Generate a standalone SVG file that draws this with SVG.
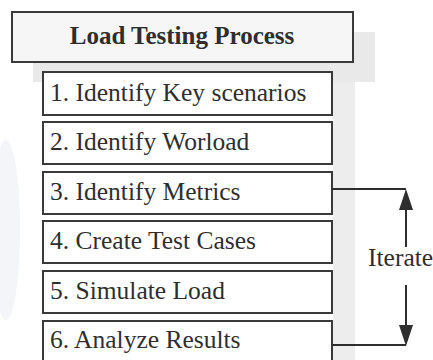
<svg xmlns="http://www.w3.org/2000/svg" width="433" height="360" viewBox="0 0 433 360">
<style>
.box{fill:#ffffff;stroke:#3a3a3a;stroke-width:2}
.title{fill:#f6f6f6;stroke:#3a3a3a;stroke-width:2}
.t{font-family:"Liberation Serif","Times New Roman",serif;font-size:25.5px;fill:#2e2e2e}
.tb{font-family:"Liberation Serif","Times New Roman",serif;font-size:25px;font-weight:bold;fill:#2e2e2e;text-anchor:middle}
.c{fill:none;stroke:#2e2e2e;stroke-width:2}
.ah{fill:#2e2e2e}
</style>
<rect width="433" height="360" fill="#ffffff"/>
<g id="background">
<rect x="33" y="32" width="342" height="50" fill="#e9e9e9"/>
<rect x="333" y="82" width="22" height="278" fill="#ededed"/>
<ellipse cx="6" cy="230" rx="14" ry="90" fill="#f4f5f9"/>
</g>
<g id="title">
<rect class="title" x="12" y="12" width="341" height="50"/>
<text class="tb" x="182" y="44">Load Testing Process</text>
</g>
<g id="step1">
<rect class="box" x="43" y="72" width="289" height="43"/>
<text class="t" x="50" y="101">1. Identify Key scenarios</text>
</g>
<g id="step2">
<rect class="box" x="43" y="122" width="289" height="42"/>
<text class="t" x="50" y="150">2. Identify Worload</text>
</g>
<g id="step3">
<rect class="box" x="43" y="172" width="289" height="42"/>
<text class="t" x="50" y="200">3. Identify Metrics</text>
</g>
<g id="step4">
<rect class="box" x="43" y="221" width="289" height="42"/>
<text class="t" x="50" y="249">4. Create Test Cases</text>
</g>
<g id="step5">
<rect class="box" x="43" y="271" width="289" height="42"/>
<text class="t" x="50" y="299">5. Simulate Load</text>
</g>
<g id="step6">
<rect class="box" x="43" y="321" width="289" height="44"/>
<text class="t" x="50" y="348">6. Analyze Results</text>
</g>
<g id="connectors">
<polyline class="c" points="332,189 406,189"/>
<line class="c" x1="406" y1="247" x2="406" y2="205"/>
<polygon class="ah" points="406,189 399,210 413,210"/>
<polyline class="c" points="332,345 406,345"/>
<line class="c" x1="406" y1="285" x2="406" y2="330"/>
<polygon class="ah" points="406,346 399,325 413,325"/>
<text class="t" x="368" y="266">Iterate</text>
</g>
</svg>
